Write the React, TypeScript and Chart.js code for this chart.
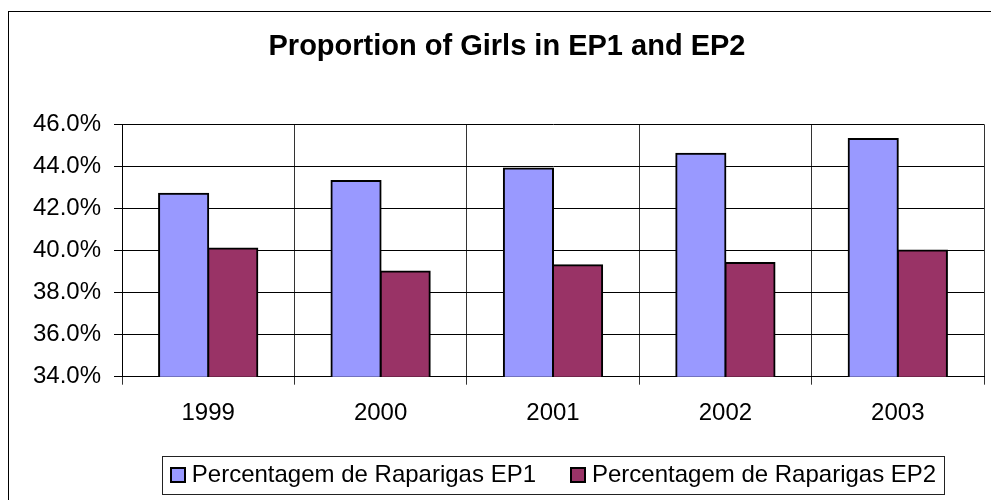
import React, { useEffect, useRef } from "react";
import { Chart, registerables } from "chart.js";

Chart.register(...registerables);

const categories = ["1999", "2000", "2001", "2002", "2003"];
const ep1Values = [42.7, 43.3, 43.9, 44.6, 45.3];
const ep2Values = [40.1, 39.0, 39.3, 39.4, 40.0];
const seriesLabels = ["Percentagem de Raparigas EP1", "Percentagem de Raparigas EP2"];
const seriesColors = ["#9999FF", "#993366"];
const titleText = "Proportion of Girls in EP1 and EP2";
const yMin = 34;
const yMax = 46;
const yStep = 2;

const FONT = "'Liberation Sans', Arial, sans-serif";

const framePlugin = {
  id: "frame",
  afterDraw(chart: any) {
    const ctx = chart.ctx;
    ctx.save();
    ctx.strokeStyle = "#000";
    ctx.lineWidth = 1;
    ctx.strokeRect(8.5, 11.5, 1000, 500);
    const lg = chart.legend;
    if (lg && lg.legendHitBoxes && lg.legendHitBoxes.length) {
      const hb = lg.legendHitBoxes;
      const first = hb[0];
      const last = hb[hb.length - 1];
      const l = first.left - 8;
      const r = last.left + last.width + 8;
      const mid = first.top + first.height / 2;
      ctx.strokeStyle = "#222";
      ctx.strokeRect(Math.round(l) + 0.5, Math.round(mid - 19) + 0.5, Math.round(r - l), 38);
      // legend swatches
      hb.forEach((h: any, i: number) => {
        const ds = chart.data.datasets[i];
        const x = Math.round(h.left) + 1;
        const y = Math.round(mid - 7);
        ctx.fillStyle = ds.backgroundColor;
        ctx.fillRect(x, y, 14, 14);
        ctx.strokeStyle = "#000";
        ctx.lineWidth = 2;
        ctx.strokeRect(x, y, 14, 14);
      });
    }
    ctx.restore();
  },
};

export default function App() {
  const ref = useRef<HTMLCanvasElement | null>(null);

  useEffect(() => {
    if (!ref.current) return;
    const chart = new Chart(ref.current, {
      type: "bar",
      data: {
        labels: categories,
        datasets: [
          {
            label: seriesLabels[0],
            data: ep1Values,
            backgroundColor: seriesColors[0],
            borderColor: "#000",
            borderWidth: 2,
            borderSkipped: false,
            inflateAmount: 1,
            categoryPercentage: 0.57,
            barPercentage: 1,
          },
          {
            label: seriesLabels[1],
            data: ep2Values,
            backgroundColor: seriesColors[1],
            borderColor: "#000",
            borderWidth: 2,
            borderSkipped: false,
            inflateAmount: 1,
            categoryPercentage: 0.57,
            barPercentage: 1,
          },
        ],
      },
      options: {
        responsive: false,
        animation: false,
        layout: { padding: { left: 30, right: 7, top: 0, bottom: 3 } },
        plugins: {
          title: {
            display: true,
            text: titleText,
            color: "#000",
            font: { family: FONT, size: 29, weight: "bold" },
            padding: { top: 30, bottom: 59.5 },
          },
          legend: {
            display: true,
            position: "bottom",
            fullSize: false,
            labels: {
              color: "#000",
              font: { family: FONT, size: 24 },
              boxWidth: 10,
              boxHeight: 10,
              padding: 34,
              generateLabels: (chart: any) => {
                const base = Chart.defaults.plugins.legend.labels.generateLabels(chart);
                return base.map((it: any) => ({
                  ...it,
                  fillStyle: "rgba(0,0,0,0)",
                  strokeStyle: "rgba(0,0,0,0)",
                  lineWidth: 0,
                }));
              },
            },
          },
          tooltip: { enabled: false },
        },
        scales: {
          x: {
            grid: {
              offset: true,
              color: "#333",
              lineWidth: 1,
              tickLength: 8,
              drawTicks: true,
            },
            border: { color: "#000", width: 1 },
            ticks: {
              color: "#000",
              font: { family: FONT, size: 24 },
              padding: 14,
              maxRotation: 0,
            },
            afterFit(scale: any) {
              scale.height = 52.3;
            },
          },
          y: {
            min: yMin,
            max: yMax,
            grid: {
              color: "#000",
              lineWidth: 1,
              tickLength: 8,
              drawTicks: true,
            },
            border: { color: "#000", width: 1 },
            ticks: {
              stepSize: yStep,
              color: "#000",
              font: { family: FONT, size: 24 },
              padding: 13,
              callback: (v: any) => Number(v).toFixed(1) + "%",
            },
            afterFit(scale: any) {
              scale.width = 92;
            },
          },
        },
      },
      plugins: [framePlugin],
    });
    return () => chart.destroy();
  }, []);

  return (
    <div style={{ position: "fixed", left: 0, top: 0, width: 991, height: 500, background: "#fff" }}>
      <canvas ref={ref} width={991} height={500} style={{ display: "block" }} />
    </div>
  );
}
